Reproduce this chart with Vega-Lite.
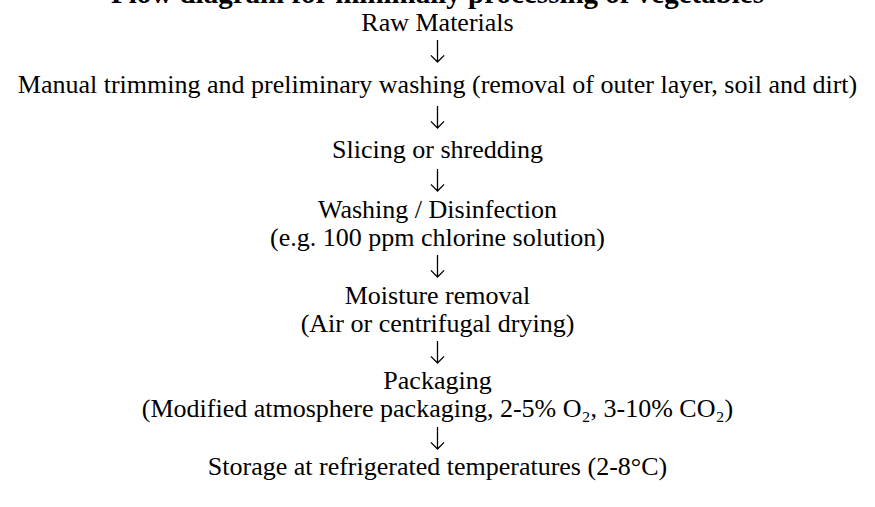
{
  "$schema": "https://vega.github.io/schema/vega-lite/v6.json",
  "width": 875,
  "height": 507,
  "padding": 0,
  "autosize": "none",
  "background": "white",
  "config": {"view": {"stroke": null}},
  "data": {
    "values": [
      {"kind": "title", "pos": 3, "text": "Flow diagram for minimally processing of vegetables"},
      {"kind": "step", "pos": 31, "text": "Raw Materials"},
      {"kind": "arrow", "pos": 51, "text": "↓"},
      {"kind": "step", "pos": 93, "text": "Manual trimming and preliminary washing (removal of outer layer, soil and dirt)"},
      {"kind": "arrow", "pos": 117, "text": "↓"},
      {"kind": "step", "pos": 158, "text": "Slicing or shredding"},
      {"kind": "arrow", "pos": 180, "text": "↓"},
      {"kind": "step", "pos": 218, "text": "Washing / Disinfection"},
      {"kind": "step", "pos": 246, "text": "(e.g. 100 ppm chlorine solution)"},
      {"kind": "arrow", "pos": 266, "text": "↓"},
      {"kind": "step", "pos": 304, "text": "Moisture removal"},
      {"kind": "step", "pos": 332, "text": "(Air or centrifugal drying)"},
      {"kind": "arrow", "pos": 352, "text": "↓"},
      {"kind": "step", "pos": 389, "text": "Packaging"},
      {"kind": "step", "pos": 417, "text": "(Modified atmosphere packaging, 2-5% O₂, 3-10% CO₂)"},
      {"kind": "arrow", "pos": 438, "text": "↓"},
      {"kind": "step", "pos": 475, "text": "Storage at refrigerated temperatures (2-8°C)"}
    ]
  },
  "encoding": {
    "x": {"datum": 0.5, "type": "quantitative", "scale": {"domain": [0, 1]}, "axis": null},
    "y": {"field": "pos", "type": "quantitative", "scale": {"domain": [0, 507], "reverse": true, "zero": false, "nice": false}, "axis": null}
  },
  "layer": [
    {
      "transform": [{"filter": "datum.kind === 'step'"}],
      "mark": {"type": "text", "font": "Liberation Serif", "fontSize": 26, "baseline": "alphabetic", "align": "center", "color": "black"},
      "encoding": {"text": {"field": "text"}}
    },
    {
      "transform": [{"filter": "datum.kind === 'arrow'"}],
      "mark": {"type": "point", "shape": "M0,-1L0,1M-0.6,0.4L0,1L0.6,0.4", "size": 484, "filled": false, "stroke": "black", "strokeWidth": 1.3, "opacity": 1, "strokeCap": "butt", "strokeJoin": "miter"},
      "encoding": {"tooltip": {"field": "text"}}
    },
    {
      "transform": [{"filter": "datum.kind === 'title'"}],
      "mark": {"type": "text", "font": "Liberation Serif", "fontSize": 29, "fontWeight": "bold", "baseline": "alphabetic", "align": "center", "color": "black"},
      "encoding": {"text": {"field": "text"}}
    }
  ]
}
